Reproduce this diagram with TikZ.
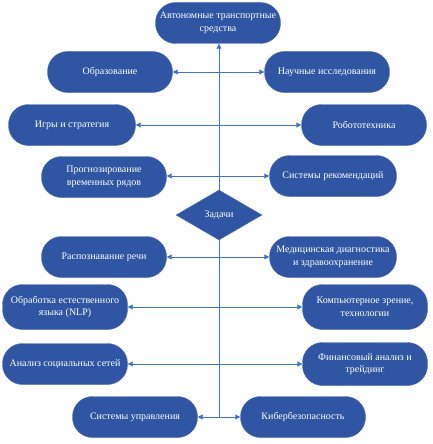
\documentclass[tikz,border=0pt]{standalone}
\usepackage{fontspec}
\setmainfont{Liberation Serif}
\usetikzlibrary{shapes.geometric,arrows.meta,backgrounds}
\definecolor{boxblue}{RGB}{47,85,163}
\definecolor{lineblue}{RGB}{68,114,196}
\begin{document}
\begin{tikzpicture}[x=1pt,y=-1pt,
  task/.style={draw=boxblue!85!white, fill=boxblue, rounded corners=20pt,
    minimum width=125pt, minimum height=41pt, text=white,
    font=\fontsize{10}{12.7}\selectfont, align=center, inner sep=1pt},
  hub/.style={diamond, draw=boxblue!85!white, fill=boxblue, minimum width=86pt,
    minimum height=50pt, inner sep=0pt, aspect=1.7, text=white,
    font=\fontsize{10}{12.7}\selectfont},
  link/.style={draw=lineblue, line width=0.9pt,
    {Triangle[length=5pt,width=5pt]}-{Triangle[length=5pt,width=5pt]}},
  uplink/.style={draw=lineblue, line width=0.9pt, -{Triangle[length=5pt,width=5pt]}}]
\useasboundingbox (0,0) rectangle (432,444);

\node[task] (top) at (218,23) {Автономные транспортные\\средства};
\node[task] (n1l) at (110,72) {Образование};
\node[task] (n1r) at (327,72) {Научные исследования};
\node[task, minimum width=127pt] (n2l) at (72,125) {Игры и стратегия};
\node[task] (n2r) at (364,125) {Робототехника};
\node[task] (n3l) at (104,177) {Прогнозирование\\временных рядов};
\node[task, minimum width=127pt] (n3r) at (333,176) {Системы рекомендаций};
\node[hub] (d) at (219,215) {Задачи};
\node[task] (n4l) at (104,257) {Распознавание речи};
\node[task, minimum width=127pt] (n4r) at (333,257) {Медицинская диагностика\\и здравоохранение};
\node[task, minimum height=45pt] (n5l) at (65,307) {Обработка естественного\\языка (NLP)};
\node[task, minimum height=45pt] (n5r) at (365,307) {Компьютерное зрение,\\технологии};
\node[task] (n6l) at (65,364) {Анализ социальных сетей};
\node[task, minimum height=43pt] (n6r) at (365,364) {Финансовый анализ и\\трейдинг};
\node[task] (n7l) at (135,417) {Системы управления};
\node[task] (n7r) at (303,417) {Кибербезопасность};

\coordinate (vb) at (219,417);
\begin{scope}[on background layer]
\draw[uplink] (vb) -- (vb |- top.south);
\draw[link] (n1l.east) -- (n1r.west);
\draw[link] (n2l.east) -- (n2r.west);
\draw[link] (n3l.east |- n3r.west) -- (n3r.west);
\draw[link] (n4l.east) -- (n4r.west);
\draw[link] (n5l.east) -- (n5r.west);
\draw[link] (n6l.east) -- (n6r.west);
\draw[link] (n7l.east) -- (n7r.west);
\end{scope}
\end{tikzpicture}
\end{document}
